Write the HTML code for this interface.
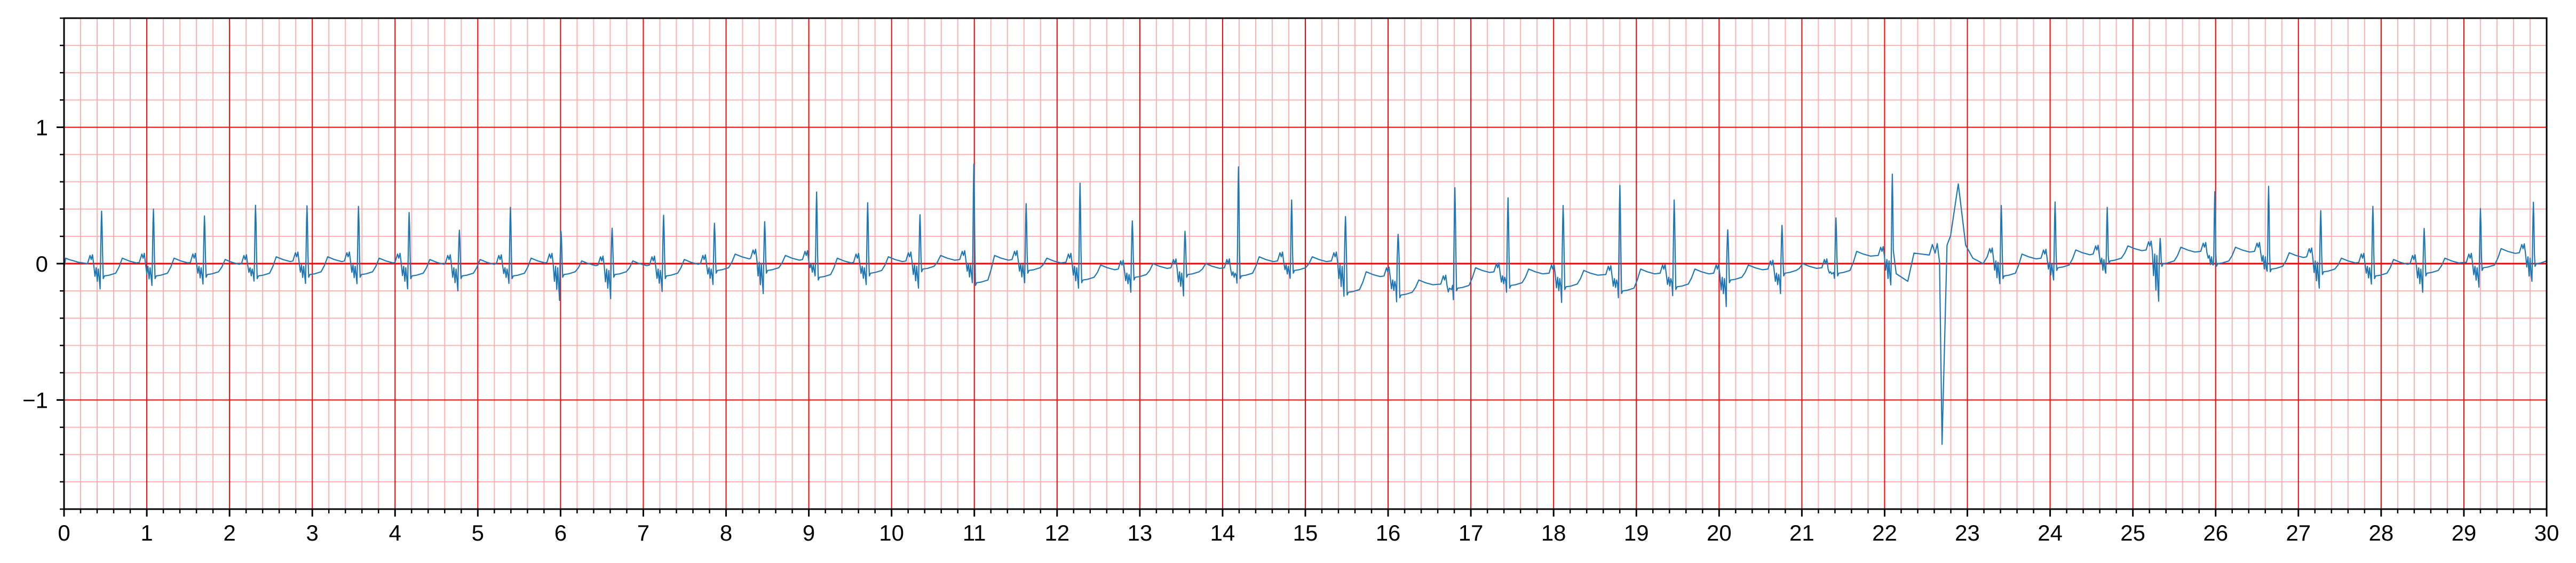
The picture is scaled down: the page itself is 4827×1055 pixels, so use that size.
<!DOCTYPE html>
<html><head><meta charset="utf-8"><style>
html,body{margin:0;padding:0;background:#fff;}
svg{display:block;}
text{font-family:"Liberation Sans","DejaVu Sans",sans-serif;}
</style></head><body>
<svg id="chart" width="4827" height="1055" viewBox="0 0 4827 1055" xmlns="http://www.w3.org/2000/svg">
<g id="grid"></g>
<g id="trace"></g>
<g id="axes"></g>
</svg>
<script>
// R-peak times (s)
const beatTimes = [0.454,1.080,1.697,2.314,2.936,3.558,4.170,4.777,5.394,6.006,6.623,7.245,7.860,8.467,9.094,9.711,10.343,10.994,11.626,12.277,12.909,13.546,14.192,14.834,15.485,16.121,16.807,17.449,18.115,18.801,19.457,20.104,20.760,21.412,22.093,23.41,24.06,24.69,25.33,25.99,26.64,27.27,27.90,28.52,29.20,29.84];
// R-peak amplitudes
const rPeaks = [0.385,0.40,0.35,0.428,0.424,0.42,0.375,0.245,0.413,0.237,0.26,0.355,0.296,0.308,0.525,0.447,0.359,0.73,0.44,0.59,0.313,0.237,0.71,0.467,0.345,0.215,0.557,0.482,0.426,0.574,0.467,0.248,0.28,0.335,0.656,0.426,0.452,0.413,0.185,0.528,0.567,0.389,0.42,0.258,0.404,0.45];
// deepest Q/S trough near each R
const qTroughs = [-0.186,-0.16,-0.15,-0.128,-0.145,-0.147,-0.185,-0.20,-0.145,-0.27,-0.257,-0.205,-0.153,-0.22,-0.09,-0.154,-0.18,-0.14,-0.14,-0.18,-0.21,-0.237,-0.143,-0.108,-0.24,-0.28,-0.265,-0.21,-0.285,-0.25,-0.235,-0.315,-0.22,-0.108,-0.156,-0.147,-0.12,-0.07,-0.276,-0.01,-0.056,-0.18,-0.15,-0.21,-0.173,-0.13];
// plateau level after each R
const plateaus = [-0.09,-0.09,-0.08,-0.09,-0.08,-0.08,-0.09,-0.09,-0.09,-0.08,-0.08,-0.09,-0.05,-0.05,-0.10,-0.07,-0.04,-0.14,-0.05,-0.12,-0.10,-0.08,-0.09,-0.05,-0.21,-0.23,-0.18,-0.16,-0.17,-0.20,-0.17,-0.12,-0.07,-0.07,-0.08,-0.09,-0.03,0.02,0.0,0.0,-0.04,-0.06,-0.09,-0.07,-0.03,0.0];
// level of the wave between beats (after T rise)
const highs = [0.04,0.04,0.03,0.05,0.05,0.04,0.03,0.03,0.04,0.02,0.02,0.03,0.07,0.06,0.04,0.05,0.06,0.06,0.04,-0.01,0.0,0.0,0.05,0.05,-0.06,-0.12,-0.03,-0.04,-0.05,-0.04,-0.04,-0.01,0.0,0.09,0.08,0.07,0.10,0.13,0.12,0.12,0.08,0.04,0.03,0.04,0.11,0.03];
// irregular event after the beat at 22.09 s
const eventTimes = [22.14,22.28,22.355,22.54,22.577,22.61,22.636,22.664,22.694,22.754,22.797,22.89,22.98,23.066,23.19];
const eventValues = [-0.074,-0.13,0.077,0.063,0.14,0.077,0.147,0.01,-1.325,0.135,0.205,0.585,0.135,0.04,0.0];
const xTicks = [0,1,2,3,4,5,6,7,8,9,10,11,12,13,14,15,16,17,18,19,20,21,22,23,24,25,26,27,28,29,30];
const yTicks = [-1,0,1];
const yTickLabels = ["\u22121","0","1"];

const L=120, R=4772, T=34, B=954, XMIN=0, XMAX=30, YMIN=-1.8, YMAX=1.8;
const xs = t => L + (t-XMIN)/(XMAX-XMIN)*(R-L);
const ys = v => B - (v-YMIN)/(YMAX-YMIN)*(B-T);
const NS="http://www.w3.org/2000/svg";
function mk(tag, parent, attrs){const e=document.createElementNS(NS,tag);for(const k in attrs)e.setAttribute(k,attrs[k]);parent.appendChild(e);return e;}

const grid=document.getElementById('grid');
for(let i=0;i<=150;i++){ if(i%5===0) continue; const x=xs(i*0.2);
  const l=mk('line',grid,{x1:x,x2:x,y1:T,y2:B,stroke:'#ffb0b0','stroke-width':2});
  
  
}
for(let i=-9;i<=9;i++){ if(i%5===0) continue; const y=ys(i*0.2);
  const l=mk('line',grid,{x1:L,x2:R,y1:y,y2:y,stroke:'#ffb0b0','stroke-width':2});
  
  
}
for(const t of xTicks){ const x=xs(t);
  const l=mk('line',grid,{x1:x,x2:x,y1:T,y2:B,stroke:'#ff0000','stroke-width':2});
  
  
}
for(const v of yTicks){ const y=ys(v);
  const l=mk('line',grid,{x1:L,x2:R,y1:y,y2:y,stroke:'#ff0000','stroke-width':v===0?3:2});
  
  
}

let pts=[[0,-0.03],[0.02,0.04],[0.06,0.03],[0.12,0.02],[0.17,0.01]];
const eventBeat = 34;
for(let i=0;i<beatTimes.length;i++){
  const r=beatTimes[i], A=rPeaks[i], Q=qTroughs[i], pl=plateaus[i], hi=highs[i];
  const lev = i>0 ? highs[i-1]-0.03 : 0.0;
  const pre=[[-0.17,lev],[-0.14,lev+0.06],[-0.125,lev+0.03],[-0.11,lev+0.065],[-0.095,lev-0.01],
    [-0.08,(lev+Q)*0.5],[-0.066,lev-0.03],[-0.052,Q*0.7],[-0.04,lev-0.04],[-0.028,Q*0.6],[-0.018,Q],[-0.012,A*0.1],[-0.005,A*0.75],[0,A],[0.006,A*0.7],[0.012,A*0.15]];
  for(const p of pre){ if(i===35 && p[0]+r<23.2) continue; pts.push([r+p[0],p[1]]); }
  if(i===eventBeat){
    for(let k=0;k<eventTimes.length;k++) pts.push([eventTimes[k],eventValues[k]]);
    continue;
  }
  const next = i+1<beatTimes.length ? beatTimes[i+1]-0.17 : 30.0;
  const post=[[0.02,pl-0.02],[0.035,pl],[0.09,pl+0.005],[0.17,pl+0.02],[0.21,(pl+hi)/2],[0.25,hi],[0.33,hi-0.02],[0.42,hi-0.035]];
  for(const p of post){ if(r+p[0]<next) pts.push([r+p[0],p[1]]); }
}
pts.push([30,0.02]);
const trace=document.getElementById('trace');
const d='M'+pts.map(p=>xs(p[0]).toFixed(1)+','+ys(p[1]).toFixed(1)).join('L');
const path=mk('path',trace,{d:d,fill:'none',stroke:'#1f77b4','stroke-width':2.2,'stroke-linejoin':'round'});



const axes=document.getElementById('axes');
const frame=mk('rect',axes,{x:L,y:T,width:R-L,height:B-T,fill:'none',stroke:'#000','stroke-width':3});


for(let i=0;i<=150;i++){ const x=xs(i*0.2); const major=i%5===0;
  const tk=mk('line',axes,{x1:x,x2:x,y1:B,y2:B+(major?14:8),stroke:'#000','stroke-width':major?3:2.5});
  
  
}
for(const t of xTicks){
  const tx=mk('text',axes,{x:xs(t),y:1013,'font-size':42,'text-anchor':'middle',fill:'#000'});
  tx.textContent=String(t);
  
  
}
for(let i=-9;i<=9;i++){ const y=ys(i*0.2); const major=i%5===0;
  const tk=mk('line',axes,{x1:L,x2:L-(major?14:8),y1:y,y2:y,stroke:'#000','stroke-width':major?3:2.5});
  
  
}
yTicks.forEach((v,k)=>{
  const tx=mk('text',axes,{x:90,y:ys(v)+15,'font-size':42,'text-anchor':'end',fill:'#000'});
  tx.textContent=yTickLabels[k];
  
  
});
</script>
</body></html>
